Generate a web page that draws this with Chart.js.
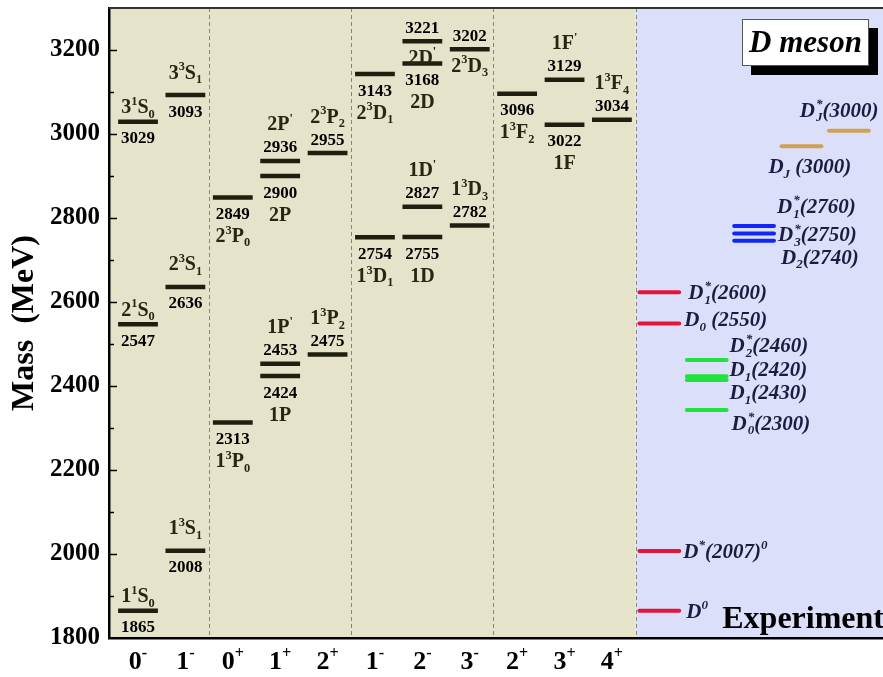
<!DOCTYPE html>
<html>
<head>
<meta charset="utf-8">
<script src="https://cdn.jsdelivr.net/npm/chart.js@4.4.1/dist/chart.umd.min.js"></script>
<style>
  html, body { margin: 0; padding: 0; background: #fff; }
  #wrap { width: 883px; height: 677px; position: relative; }
</style>
</head>
<body>
<div id="wrap"><canvas id="levels"></canvas></div>
<script>
// J^P columns of the theory part (index = column position)
const jpLabels = ['0^-', '1^-', '0^+', '1^+', '2^+', '1^-', '2^-', '3^-', '2^+', '3^+', '4^+'];

// predicted D meson levels (MeV)
const theoryCol  = [0, 0, 0, 1, 1, 1, 2, 2, 3, 3, 3, 3, 4, 4, 5, 5, 6, 6, 6, 6, 7, 7, 8, 9, 9, 10];
const theoryMass = [1865, 2547, 3029, 2008, 2636, 3093, 2313, 2849, 2424, 2453, 2900, 2936, 2475, 2955,
                    2754, 3143, 2755, 2827, 3168, 3221, 2782, 3202, 3096, 3022, 3129, 3034];
const theoryName = ['1^1S_0', '2^1S_0', '3^1S_0', '1^3S_1', '2^3S_1', '3^3S_1', '1^3P_0', '2^3P_0',
                    '1P', "1P^'", '2P', "2P^'", '1^3P_2', '2^3P_2', '1^3D_1', '2^3D_1', '1D', "1D^'",
                    '2D', "2D^'", '1^3D_3', '2^3D_3', '1^3F_2', '1F', "1F^'", '1^3F_4'];
// where the mass number / the state name sit relative to the level
const numPlace  = ['b', 'b', 'b', 'b', 'b', 'b', 'b', 'b', 'b', 'a', 'b', 'a', 'a', 'a',
                   'b', 'b', 'b', 'a', 'b', 'a', 'a', 'a', 'b', 'b', 'a', 'a'];
const namePlace = ['a', 'a', 'a', 'a+', 'a+', 'a+', 'bb', 'bb', 'bb', 'aa', 'bb', 'aa', 'aa', 'aa',
                   'bb', 'bb', 'bb', 'aa', 'bb', 'b', 'aa', 'b', 'bb', 'bb', 'aa', 'aa'];

// experimental states (MeV)
const expRed   = [1865, 2007, 2549, 2623];
const expGreen = [2343, 2414, 2423, 2462];
const expBlue  = [2746, 2763, 2781];
const expGold1 = [2971];
const expGold2 = [3008];
const redName   = ['D^0', 'D^*(2007)^0', 'D_0 (2550)', 'D_1^*(2600)'];
const greenName = ['D_0^*(2300)', 'D_1(2430)', 'D_1(2420)', 'D_2^*(2460)'];
const blueName  = ['D_2(2740)', 'D_3^*(2750)', 'D_1^*(2760)'];

const colors = {
    theory: '#1f1f10',
    name: '#262612',
    exp: '#1c1c42',
    khaki: '#e5e4cb',
    lavender: '#dcdff9',
    red: '#e3163a',
    green: '#1fe23c',
    blue: '#1226f5',
    gold: '#cfa253'
};
const serif = '"Liberation Serif", "Times New Roman", serif';
const half = 0.42;

function levels(cols, masses) {
    const pts = [];
    masses.forEach((m, i) => {
        const c = Array.isArray(cols) ? cols[i] : cols;
        pts.push({ x: c - half, y: m }, { x: c + half, y: m }, { x: c, y: null });
    });
    return pts;
}

function parseRich(s) {
    const toks = [];
    for (let i = 0; i < s.length; i++) {
        const c = s[i];
        if ((c === '^' || c === '_') && i + 1 < s.length) {
            toks.push({ ch: s[i + 1], kind: c === '^' ? 'sup' : 'sub' });
            i++;
        } else {
            toks.push({ ch: c, kind: 'base' });
        }
    }
    return toks;
}

// draws text with ^x / _x super/subscripts; y is the middle of the capital letters
function drawRich(ctx, s, x, y, size, style, color, align) {
    const toks = parseRich(s);
    const small = size * 0.62;
    const fBase = style + ' ' + size + 'px ' + serif;
    const fSmall = style + ' ' + small + 'px ' + serif;
    const widths = [];
    let total = 0;
    for (let i = 0; i < toks.length; i++) {
        const t = toks[i];
        ctx.font = t.kind === 'base' ? fBase : fSmall;
        let w = ctx.measureText(t.ch).width;
        if (t.kind === 'sub' && toks[i + 1] && toks[i + 1].kind === 'sup') {
            w = Math.max(w, ctx.measureText(toks[i + 1].ch).width);
            widths.push(w, 0);
            total += w + 1;
            i++;
            continue;
        }
        widths.push(w);
        total += w;
    }
    let cx = align === 'center' ? x - total / 2 : (align === 'right' ? x - total : x);
    const base = y + size * 0.33;
    ctx.fillStyle = color;
    ctx.textAlign = 'left';
    ctx.textBaseline = 'alphabetic';
    for (let i = 0; i < toks.length; i++) {
        const t = toks[i];
        if (t.kind === 'base') {
            ctx.font = fBase;
            ctx.fillText(t.ch, cx, base);
            cx += widths[i];
        } else if (t.kind === 'sub' && toks[i + 1] && toks[i + 1].kind === 'sup') {
            ctx.font = fSmall;
            ctx.fillText(t.ch, cx + 1, base + size * 0.22);
            ctx.fillText(toks[i + 1].ch, cx + 1, base - size * 0.42);
            cx += widths[i] + 1;
            i++;
        } else {
            ctx.font = fSmall;
            ctx.fillText(t.ch, cx, t.kind === 'sup' ? base - size * 0.42 : base + size * 0.22);
            cx += widths[i];
        }
    }
}

const numOffset = { a: -14, b: 16 };
const nameOffset = { a: -15, 'a+': -23, b: 16, aa: -37, bb: 38 };

// experimental label offsets from the right end of each line
const redOffset   = [[7, 0], [4, 0], [5, -4], [9, 0]];
const greenOffset = [[5, 13], [3, 12], [3, -7], [3, -15]];
const blueOffset  = [[7, 16], [4, 1], [3, -20]];

const decorPlugin = {
    id: 'decor',
    beforeDraw(chart) {
        const { ctx, chartArea: a, scales: { x } } = chart;
        const split = x.getPixelForValue(10.5);
        ctx.save();
        ctx.fillStyle = colors.khaki;
        ctx.fillRect(a.left, a.top, split - a.left, a.bottom - a.top);
        ctx.fillStyle = colors.lavender;
        ctx.fillRect(split, a.top, a.right - split, a.bottom - a.top);
        ctx.strokeStyle = '#85857a';
        ctx.lineWidth = 1;
        ctx.setLineDash([4, 3]);
        [1.5, 4.5, 7.5, 10.5].forEach(v => {
            const px = Math.round(x.getPixelForValue(v)) + 0.5;
            ctx.beginPath();
            ctx.moveTo(px, a.top);
            ctx.lineTo(px, a.bottom);
            ctx.stroke();
        });
        ctx.restore();
    },
    afterDraw(chart) {
        const { ctx, chartArea: a, scales: { x, y } } = chart;
        ctx.save();
        // top frame line
        ctx.strokeStyle = '#333';
        ctx.lineWidth = 2;
        ctx.beginPath();
        ctx.moveTo(a.left, a.top);
        ctx.lineTo(a.right, a.top);
        ctx.stroke();
        // inward ticks on the mass axis
        ctx.strokeStyle = '#000';
        ctx.lineWidth = 1.5;
        for (let m = 1900; m <= 3200; m += 100) {
            const py = Math.round(y.getPixelForValue(m)) + 0.5;
            ctx.beginPath();
            ctx.moveTo(a.left, py);
            ctx.lineTo(a.left + (m % 200 === 0 ? 8 : 5), py);
            ctx.stroke();
        }

        // J^P labels under the axis
        jpLabels.forEach((t, i) => {
            drawRich(ctx, t, x.getPixelForValue(i), a.bottom + 22, 26, 'bold', '#000', 'center');
        });

        // theory numbers and names
        theoryMass.forEach((m, i) => {
            const px = x.getPixelForValue(theoryCol[i]);
            const py = y.getPixelForValue(m);
            drawRich(ctx, String(m), px, py + numOffset[numPlace[i]], 17, 'bold', '#000', 'center');
            drawRich(ctx, theoryName[i], px, py + nameOffset[namePlace[i]], 20, 'bold', colors.name, 'center');
        });

        // experimental labels
        const expLabel = (col, vals, names, offs) => {
            vals.forEach((m, i) => {
                const px = x.getPixelForValue(col + half);
                const py = y.getPixelForValue(m);
                drawRich(ctx, names[i], px + offs[i][0], py + offs[i][1], 21, 'italic bold', colors.exp, 'left');
            });
        };
        expLabel(11, expRed, redName, redOffset);
        expLabel(12, expGreen, greenName, greenOffset);
        expLabel(13, expBlue, blueName, blueOffset);
        drawRich(ctx, 'D_J (3000)', x.getPixelForValue(14 + half) - 53, y.getPixelForValue(expGold1[0]) + 20,
            21, 'italic bold', colors.exp, 'left');
        drawRich(ctx, 'D_J^*(3000)', x.getPixelForValue(15 + half) - 69, y.getPixelForValue(expGold2[0]) - 21,
            21, 'italic bold', colors.exp, 'left');

        // "D meson" box with shadow
        const bx = a.right - 141, by = a.top + 11, bw = 127, bh = 47;
        ctx.fillStyle = '#000';
        ctx.fillRect(bx + 9, by + 9, bw, bh);
        ctx.fillStyle = '#fff';
        ctx.fillRect(bx, by, bw, bh);
        ctx.strokeStyle = '#555';
        ctx.lineWidth = 1;
        ctx.strokeRect(bx + 0.5, by + 0.5, bw - 1, bh - 1);
        ctx.font = 'italic bold 31px ' + serif;
        ctx.fillStyle = '#000';
        ctx.textAlign = 'center';
        ctx.textBaseline = 'middle';
        ctx.fillText('D meson', bx + bw / 2, by + bh / 2 + 1);

        ctx.font = 'bold 32px ' + serif;
        ctx.textAlign = 'right';
        ctx.textBaseline = 'alphabetic';
        ctx.fillText('Experiment', a.right + 1, a.bottom - 10);
        ctx.restore();
    }
};

function lineSet(data, color, width, cap) {
    return {
        data: data,
        borderColor: color,
        borderWidth: width,
        borderCapStyle: cap,
        pointRadius: 0,
        fill: false,
        tension: 0,
        spanGaps: false
    };
}

new Chart(document.getElementById('levels').getContext('2d'), {
    type: 'line',
    data: {
        datasets: [
            lineSet(levels(theoryCol, theoryMass), colors.theory, 4.5, 'butt'),
            lineSet(levels(11, expRed), colors.red, 4, 'round'),
            lineSet(levels(12, expGreen), colors.green, 4, 'round'),
            lineSet(levels(13, expBlue), colors.blue, 4, 'round'),
            lineSet(levels(14, expGold1), colors.gold, 4, 'round'),
            lineSet(levels(15, expGold2), colors.gold, 4, 'round')
        ]
    },
    options: {
        responsive: true,
        maintainAspectRatio: false,
        animation: false,
        layout: { padding: { top: 8, right: 0, left: 0, bottom: 0 } },
        plugins: { legend: { display: false }, tooltip: { enabled: false } },
        scales: {
            x: {
                type: 'linear',
                min: -0.612,
                max: 15.72,
                grid: { display: false, drawTicks: false },
                ticks: { display: false },
                border: { color: '#000', width: 2.5 },
                afterFit: s => { s.height = 39; s.paddingLeft = 0; s.paddingRight = 0; }
            },
            y: {
                min: 1800,
                max: 3300,
                grid: { display: false, drawTicks: false },
                border: { color: '#000', width: 2.5 },
                ticks: {
                    stepSize: 200,
                    includeBounds: false,
                    padding: 9,
                    color: '#000',
                    font: { family: serif, size: 25, weight: 'bold' },
                    callback: value => String(value)
                },
                title: {
                    display: true,
                    text: 'Mass  (MeV)',
                    color: '#000',
                    font: { family: serif, size: 32, weight: 'bold' },
                    padding: { top: 6, bottom: 0 }
                },
                afterFit: s => { s.width = 109; s.paddingTop = 0; s.paddingBottom = 0; }
            }
        }
    },
    plugins: [decorPlugin]
});
</script>
</body>
</html>
